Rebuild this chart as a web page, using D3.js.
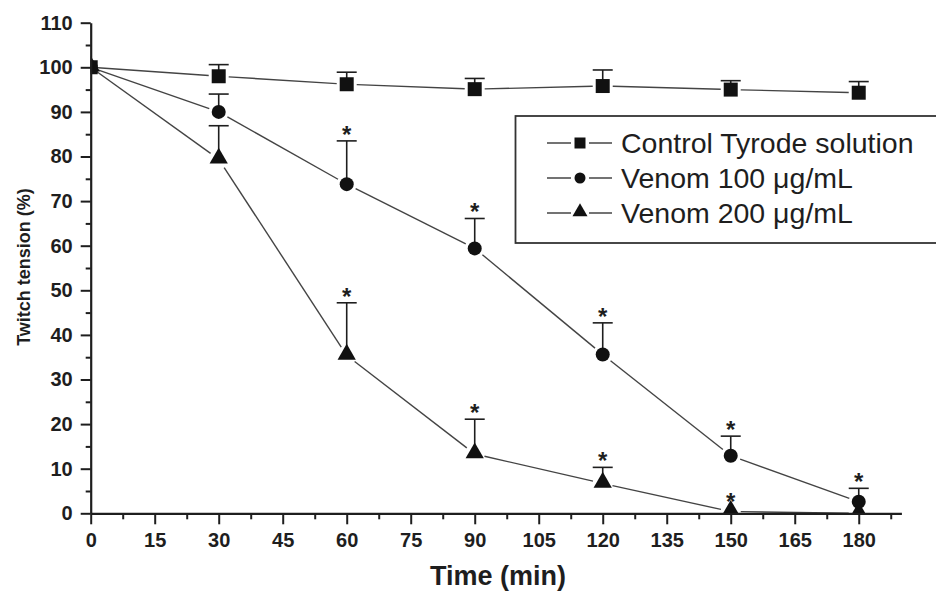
<!DOCTYPE html>
<html>
<head>
<meta charset="utf-8">
<script src="https://cdn.jsdelivr.net/npm/d3@7"></script>
<style>
  body { margin: 0; background: #fff; }
  svg { display: block; font-family: Arial, "Liberation Sans", sans-serif; }
</style>
</head>
<body>
<svg id="chart" width="936" height="592"></svg>
<script>
// data
const times = [0, 30, 60, 90, 120, 150, 180];
const controlVals = [100, 98.0, 96.2, 95.1, 95.8, 95.0, 94.3];
const controlErr  = [0, 2.6, 2.7, 2.4, 3.6, 2.0, 2.5];
const v100Vals = [100, 90.0, 73.8, 59.4, 35.6, 12.9, 2.6];
const v100Err  = [0, 4.0, 9.7, 6.7, 7.1, 4.4, 3.0];
const v200Vals = [100, 79.4, 35.4, 13.3, 6.7, 0.4, 0];
const v200Err  = [0, 7.5, 11.8, 7.8, 3.6, 0, 0];
const v100Sig = [false, false, true, true, true, true, true];
const v200Sig = [false, false, true, true, true, true, false];
const seriesNames = ['Control Tyrode solution', 'Venom 100 \u03bcg/mL', 'Venom 200 \u03bcg/mL'];
const xTicks = [0, 15, 30, 45, 60, 75, 90, 105, 120, 135, 150, 165, 180];
const yTicks = [0, 10, 20, 30, 40, 50, 60, 70, 80, 90, 100, 110];

const series = [
  { name: seriesNames[0], vals: controlVals, err: controlErr, sig: null, shape: 'square' },
  { name: seriesNames[1], vals: v100Vals, err: v100Err, sig: v100Sig, shape: 'circle' },
  { name: seriesNames[2], vals: v200Vals, err: v200Err, sig: v200Sig, shape: 'triangle' }
];

const ink = '#1e1e1e';
const lineCol = '#444';

const svg = d3.select('#chart');
const x = d3.scaleLinear().domain([0, 190]).range([90.7, 901.4]);
const y = d3.scaleLinear().domain([0, 110]).range([513.3, 22.7]);

svg.append('defs').append('clipPath').attr('id', 'plot')
  .append('rect').attr('x', x(0)).attr('y', 0).attr('width', 900).attr('height', y(0));

function symbolPath(shape, size) {
  if (shape === 'square') return d3.symbol(d3.symbolSquare, size * size)();
  if (shape === 'circle') return d3.symbol(d3.symbolCircle, Math.PI * size * size / 4)();
  return d3.symbol(d3.symbolTriangle, size * size * 0.5)();
}

// connecting lines, broken near the markers
const gap = 10;
series.forEach(s => {
  const g = svg.append('g');
  for (let i = 0; i < times.length - 1; i++) {
    const x1 = x(times[i]), y1 = y(s.vals[i]);
    const x2 = x(times[i + 1]), y2 = y(s.vals[i + 1]);
    const len = Math.hypot(x2 - x1, y2 - y1);
    const ux = (x2 - x1) / len, uy = (y2 - y1) / len;
    const g1 = i === 0 ? 0 : gap;
    g.append('line')
      .attr('x1', x1 + ux * g1).attr('y1', y1 + uy * g1)
      .attr('x2', x2 - ux * gap).attr('y2', y2 - uy * gap)
      .attr('stroke', lineCol).attr('stroke-width', 1.4);
  }
});

// error bars (upper only)
series.forEach(s => {
  const g = svg.append('g').attr('stroke', ink).attr('stroke-width', 1.6);
  times.forEach((t, i) => {
    if (!s.err[i]) return;
    const cx = x(t);
    g.append('line').attr('x1', cx).attr('x2', cx)
      .attr('y1', y(s.vals[i])).attr('y2', y(s.vals[i] + s.err[i]));
    g.append('line').attr('x1', cx - 10).attr('x2', cx + 10)
      .attr('y1', y(s.vals[i] + s.err[i])).attr('y2', y(s.vals[i] + s.err[i]));
  });
});

// markers, drawn in reverse so the control square sits on top at t=0
const markers = svg.append('g').attr('clip-path', 'url(#plot)');
series.slice().reverse().forEach(s => {
  markers.selectAll(null)
    .data(times.map((t, i) => ({ t, v: s.vals[i] })))
    .enter().append('path')
    .attr('d', symbolPath(s.shape, s.shape === 'triangle' ? 17 : 14))
    .attr('transform', d => `translate(${x(d.t)},${y(d.v) + (s.shape === 'triangle' ? -1 : 0)})`)
    .attr('fill', '#111');
});

// significance stars
series.forEach(s => {
  if (!s.sig) return;
  times.forEach((t, i) => {
    if (!s.sig[i]) return;
    svg.append('text')
      .attr('x', x(t)).attr('y', y(s.vals[i] + s.err[i]) - (s.err[i] ? 0 : 4) + 2)
      .attr('text-anchor', 'middle')
      .attr('font-size', 24).attr('font-weight', 'bold').attr('fill', ink)
      .text('*');
  });
});

// axes
const xMajor = svg.append('g').attr('transform', `translate(0,${y(0)})`)
  .call(d3.axisBottom(x).tickValues(xTicks).tickSize(11).tickSizeOuter(0).tickPadding(6));
svg.append('g').attr('transform', `translate(0,${y(0)})`)
  .call(d3.axisBottom(x).tickValues(d3.range(7.5, 190, 15)).tickSize(6).tickFormat('').tickSizeOuter(0))
  .select('.domain').remove();
const yMajor = svg.append('g').attr('transform', `translate(${x(0)},0)`)
  .call(d3.axisLeft(y).tickValues(yTicks).tickSize(10).tickSizeOuter(0).tickPadding(8));
svg.append('g').attr('transform', `translate(${x(0)},0)`)
  .call(d3.axisLeft(y).tickValues(d3.range(5, 110, 10)).tickSize(5).tickFormat('').tickSizeOuter(0))
  .select('.domain').remove();

svg.selectAll('.domain').attr('stroke', ink).attr('stroke-width', 2.2);
svg.selectAll('.tick line').attr('stroke', ink).attr('stroke-width', 2);
svg.selectAll('.tick text').attr('fill', ink).attr('font-size', 20).attr('font-weight', 'bold')
  .attr('font-family', 'Arial, "Liberation Sans", sans-serif');
xMajor.selectAll('.tick text').attr('dy', '0.85em');

// axis titles
svg.append('text')
  .attr('x', 498).attr('y', 585)
  .attr('text-anchor', 'middle')
  .attr('font-size', 27).attr('font-weight', 'bold').attr('fill', ink)
  .text('Time (min)');
svg.append('text')
  .attr('transform', `translate(30,267) rotate(-90)`)
  .attr('text-anchor', 'middle')
  .attr('font-size', 18).attr('font-weight', 'bold').attr('fill', ink)
  .text('Twitch tension (%)');

// legend
const legend = svg.append('g');
legend.append('rect')
  .attr('x', 515.5).attr('y', 116).attr('width', 440).attr('height', 127)
  .attr('fill', '#fff').attr('stroke', '#333').attr('stroke-width', 1.8);
series.forEach((s, i) => {
  const cy = 143 + i * 35;
  legend.append('line').attr('x1', 547).attr('x2', 612).attr('y1', cy).attr('y2', cy)
    .attr('stroke', lineCol).attr('stroke-width', 1.4);
  legend.append('rect').attr('x', 571).attr('y', cy - 7).attr('width', 18).attr('height', 14).attr('fill', '#fff');
  legend.append('path')
    .attr('d', symbolPath(s.shape, s.shape === 'triangle' ? 14 : 11))
    .attr('transform', `translate(580,${cy + (s.shape === 'triangle' ? -1 : 0)})`)
    .attr('fill', '#111');
  legend.append('text')
    .attr('x', 621).attr('y', cy + 10)
    .attr('font-size', 28.5).attr('fill', ink)
    .text(s.name);
});
</script>
</body>
</html>
